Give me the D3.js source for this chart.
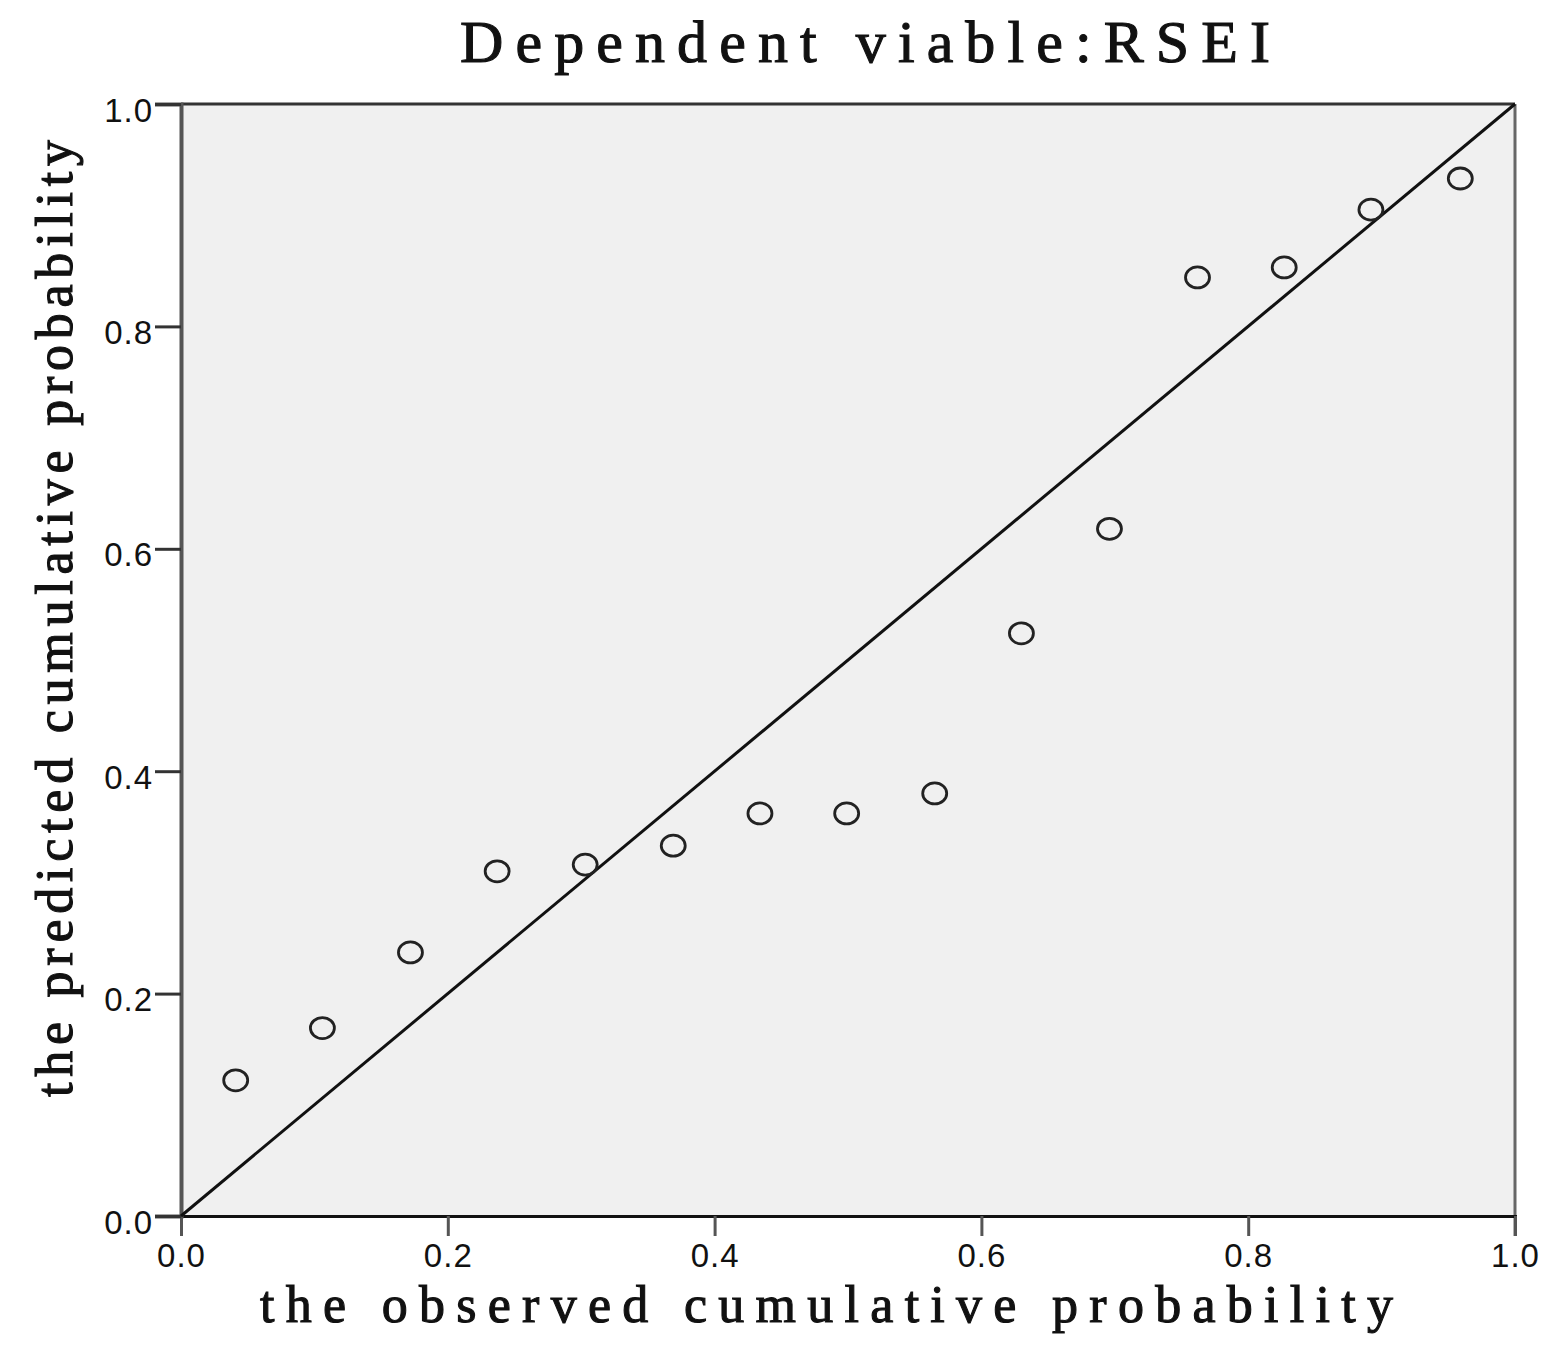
<!DOCTYPE html>
<html>
<head>
<meta charset="utf-8">
<script src="https://cdn.jsdelivr.net/npm/d3@7"></script>
<style>
  body { margin: 0; background: #fff; }
</style>
</head>
<body>
<div id="chart"></div>
<script>
// observed vs predicted cumulative probability (P-P plot)
const observed = [0.041, 0.106, 0.172, 0.237, 0.303, 0.369, 0.434, 0.499, 0.565, 0.630, 0.696, 0.762, 0.827, 0.892, 0.959]
const predicted = [0.122, 0.169, 0.237, 0.310, 0.316, 0.333, 0.362, 0.362, 0.380, 0.524, 0.618, 0.844, 0.853, 0.905, 0.933]
const tickValues = [0.0, 0.2, 0.4, 0.6, 0.8, 1.0]
const refLine = [[0, 0], [1, 1]]

const width = 1553, height = 1364
const margin = ({top: 104, right: 38, bottom: 148, left: 181})

const svg = d3.select("#chart").append("svg")
    .attr("width", width)
    .attr("height", height)

const x = d3.scaleLinear()
    .domain([0, 1])
    .range([margin.left, width - margin.right])
const y = d3.scaleLinear()
    .domain([0, 1])
    .range([height - margin.bottom, margin.top])

// plot background
svg.append("rect")
    .attr("x", x(0))
    .attr("y", y(1))
    .attr("width", x(1) - x(0))
    .attr("height", y(0) - y(1))
    .attr("fill", "#f0f0f0")

// right border
svg.append("line")
    .attr("x1", x(1)).attr("x2", x(1))
    .attr("y1", y(1)).attr("y2", y(0) + 20)
    .attr("stroke", "#666")
    .attr("stroke-width", 3)

// top border
svg.append("line")
    .attr("x1", x(0)).attr("x2", x(1))
    .attr("y1", y(1)).attr("y2", y(1))
    .attr("stroke", "#333")
    .attr("stroke-width", 3)

var tickText = sel => sel
    .style("font-family", "'Liberation Sans', Arial, sans-serif")
    .style("font-size", "33px")
    .style("letter-spacing", "1px")
    .attr("fill", "#111")

var xAxis = g => g
    .attr("transform", `translate(0,${y(0)})`)
    .call(d3.axisBottom(x).tickValues(tickValues).tickFormat(d3.format(".1f")).tickSize(20).tickPadding(8))
    .call(g => g.select(".domain").attr("stroke", "#111").attr("stroke-width", 3))
    .call(g => g.selectAll(".tick line").attr("stroke", "#555").attr("stroke-width", 3))
    .call(g => g.selectAll(".tick text").call(tickText))

var yAxis = g => g
    .attr("transform", `translate(${x(0)},0)`)
    .call(d3.axisLeft(y).tickValues(tickValues).tickFormat(d3.format(".1f")).tickSize(26).tickPadding(2))
    .call(g => g.select(".domain").attr("stroke", "#555").attr("stroke-width", 4))
    .call(g => g.selectAll(".tick line").attr("stroke", "#333").attr("stroke-width", 3))
    .call(g => g.selectAll(".tick text").call(tickText).attr("dy", "0.52em"))

svg.append("g").call(xAxis)
svg.append("g").call(yAxis)

// diagonal reference line
svg.append("path")
    .datum(refLine)
    .attr("d", d3.line().x(d => x(d[0])).y(d => y(d[1])))
    .attr("fill", "none")
    .attr("stroke", "#111")
    .attr("stroke-width", 3)

// points
svg.append("g")
    .selectAll("ellipse")
    .data(observed)
    .join("ellipse")
    .attr("cx", d => x(d))
    .attr("cy", (d, i) => y(predicted[i]))
    .attr("rx", 12)
    .attr("ry", 10.5)
    .attr("fill", "none")
    .attr("stroke", "#222")
    .attr("stroke-width", 2.8)

// title and axis labels
function serifLabel(tx, ty, rot, size, len, str) {
    svg.append("text")
        .attr("transform", `translate(${tx},${ty}) rotate(${rot})`)
        .attr("text-anchor", "middle")
        .style("font-family", "'Liberation Serif', 'Times New Roman', serif")
        .style("font-size", size + "px")
        .attr("fill", "#111")
        .attr("stroke", "#111")
        .attr("stroke-width", 1.1)
        .attr("textLength", len)
        .attr("lengthAdjust", "spacing")
        .text(str)
}

serifLabel((460 + 1270) / 2, 62, 0, 60, 810, "Dependent viable:RSEI")
serifLabel((260 + 1393) / 2, 1322, 0, 52, 1133, "the observed cumulative probability")
serifLabel(72, (140 + 1097) / 2, -90, 52, 957, "the predicted cumulative probability")
</script>
</body>
</html>
